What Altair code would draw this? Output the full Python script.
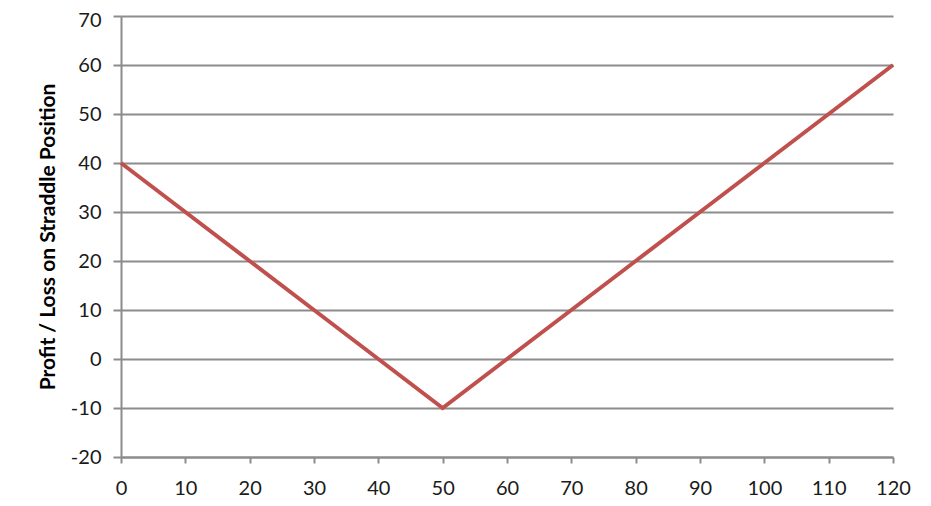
import altair as alt
import pandas as pd

price = [0, 10, 20, 30, 40, 50, 60, 70, 80, 90, 100, 110, 120]
profit = [40, 30, 20, 10, 0, -10, 0, 10, 20, 30, 40, 50, 60]

df = pd.DataFrame({"price": price, "profit": profit})

grid_color = "#8c8c8c"
label_font = "Lato"

chart = alt.Chart(df).mark_line(color="#C0504D", strokeWidth=4, clip=False).encode(
    x=alt.X("price:Q",
            scale=alt.Scale(domain=[0, 120], nice=False, zero=False),
            axis=alt.Axis(values=list(range(0, 121, 10)), title=None, grid=False,
                          domainColor=grid_color, domainWidth=2,
                          tickColor=grid_color, tickWidth=2, tickSize=6,
                          labelFont=label_font, labelFontSize=20, labelColor="#1a1a1a",
                          labelPadding=15, labelFlush=False, labelOverlap=False,
                          labelExpr="'' + datum.value")),
    y=alt.Y("profit:Q",
            scale=alt.Scale(domain=[-20, 70], nice=False, zero=False),
            axis=alt.Axis(values=list(range(-20, 71, 10)), title="Profit / Loss on Straddle Position",
                          grid=True, gridColor=grid_color, gridWidth=2,
                          domainColor=grid_color, domainWidth=2,
                          tickColor=grid_color, tickWidth=2, tickSize=8,
                          labelFont=label_font, labelFontSize=20, labelColor="#1a1a1a",
                          labelPadding=12, labelExpr="'' + datum.value",
                          labelOffset={"condition": {"test": "datum.value == 70", "value": 4}, "value": 0},
                          titleFont=label_font, titleFontSize=21, titleFontWeight="bold",
                          titleColor="#000000", titlePadding=12)),
).properties(
    width=772, height=441,
    autosize=alt.AutoSizeParams(type="none"),
    padding={"left": 113, "top": 8, "right": 30, "bottom": 41},
).configure_view(stroke=None)

chart.save("out.html", embed_options={"renderer": "svg", "actions": False})
